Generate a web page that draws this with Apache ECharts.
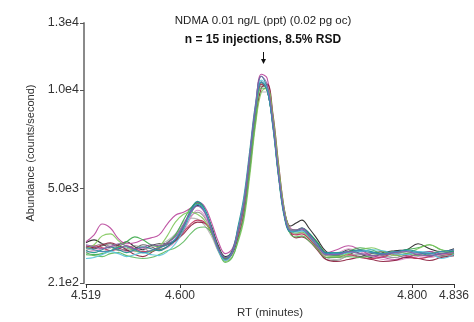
<!DOCTYPE html>
<html>
<head>
    <meta charset="utf-8">
    <title>NDMA chromatogram</title>
    <script src="https://cdn.jsdelivr.net/npm/echarts@6/dist/echarts.min.js"></script>
    <style>
        html, body { margin: 0; padding: 0; background: #fff; }
        #chart { width: 474px; height: 322px; }
    </style>
</head>
<body>
    <div id="chart"></div>
    <script>
        // retention times (minutes), shared by all injections
        const rt = [4.519, 4.526, 4.533, 4.540, 4.547, 4.554, 4.561, 4.568, 4.575, 4.582,
                    4.589, 4.596, 4.603, 4.609, 4.615, 4.621, 4.627, 4.633, 4.639, 4.645,
                    4.650, 4.655, 4.660, 4.665, 4.670, 4.675, 4.680, 4.685, 4.690, 4.695,
                    4.700, 4.705, 4.711, 4.718, 4.726, 4.735, 4.745, 4.755, 4.765, 4.775,
                    4.785, 4.795, 4.805, 4.815, 4.825, 4.836];

        // abundance (counts/second), one array per injection
        const inj01 = [2250, 2400, 2200, 2000, 2150, 2300, 2050, 1900, 2100, 2200, 2200, 2350, 2900, 3700, 4150, 3900, 3100, 2100, 1550, 1850, 2900, 4300, 6600, 9000, 10400, 10000, 8300, 5700, 3800, 3100, 3250, 3400, 3000, 2450, 1800, 1650, 1900, 1700, 1500, 1750, 1850, 1900, 2200, 1950, 1800, 1950];
        const inj02 = [2050, 1950, 2100, 2200, 2000, 1850, 1950, 2150, 2050, 1900, 2050, 2400, 3000, 3800, 4300, 3950, 3000, 1950, 1400, 1750, 2800, 4200, 6500, 8900, 10300, 10000, 8200, 5600, 3600, 2800, 2850, 2950, 2700, 2300, 1700, 1600, 1750, 1550, 1700, 1800, 1650, 1500, 1700, 1800, 1600, 1750];
        const inj03 = [1850, 2050, 2200, 2050, 1850, 1950, 2100, 2000, 1800, 1950, 2250, 2600, 3200, 3600, 3800, 3550, 2800, 1850, 1400, 1750, 2700, 4000, 6200, 8700, 10200, 10100, 8400, 5800, 3700, 2800, 2700, 2800, 2500, 2000, 1400, 1350, 1600, 1650, 1750, 1600, 1500, 1650, 1800, 1650, 1550, 1700];
        const inj04 = [1950, 1850, 1800, 2000, 2100, 1950, 1800, 1850, 2050, 2150, 2350, 2700, 3300, 3500, 3450, 3150, 2600, 1800, 1350, 1700, 2600, 3900, 6100, 8500, 9900, 9900, 8300, 5800, 3700, 2800, 2700, 2750, 2450, 2050, 1500, 1400, 1600, 1700, 1550, 1500, 1650, 1800, 1700, 1550, 1650, 1600];
        const inj05 = [2300, 2650, 3200, 3000, 2450, 2200, 2250, 2400, 2500, 2650, 3200, 3650, 3800, 4000, 4300, 4100, 3300, 2300, 1700, 1950, 3000, 4400, 6700, 9100, 10800, 10600, 8600, 5900, 3800, 3000, 2900, 2950, 2700, 2200, 1750, 1900, 2100, 1900, 1600, 1500, 1400, 1550, 1650, 1800, 1700, 1900];
        const inj06 = [1750, 1850, 1950, 2100, 1950, 1800, 1850, 2000, 1950, 1850, 2000, 2300, 2800, 3500, 3900, 3650, 2800, 1850, 1350, 1700, 2700, 4100, 6400, 8900, 10400, 10200, 8400, 5800, 3700, 2900, 2850, 2900, 2600, 2150, 1600, 1700, 1950, 1800, 1550, 1400, 1350, 1450, 1550, 1500, 1650, 1800];
        const inj07 = [2100, 2000, 2150, 2250, 2100, 1900, 1650, 1550, 1750, 2000, 2150, 2350, 2700, 3100, 3300, 3250, 2850, 2050, 1450, 1700, 2500, 3700, 5900, 8400, 10100, 10300, 8800, 6200, 3900, 2800, 2500, 2550, 2350, 1900, 1400, 1300, 1400, 1500, 1400, 1300, 1350, 1500, 1450, 1350, 1500, 1600];
        const inj08 = [2000, 2100, 2000, 1850, 1950, 2100, 1950, 1800, 1850, 2050, 2200, 2400, 2800, 3200, 3400, 3300, 2750, 1950, 1450, 1750, 2750, 4100, 6400, 8800, 10300, 10200, 8500, 5900, 3700, 2800, 2650, 2700, 2450, 2000, 1500, 1500, 1650, 1500, 1450, 1550, 1700, 1600, 1450, 1550, 1700, 1650];
        const inj09 = [1750, 1650, 1700, 1850, 2050, 2300, 2550, 2400, 2150, 2050, 2250, 2650, 3400, 4000, 4250, 3950, 3000, 2000, 1450, 1750, 2800, 4200, 6500, 8900, 10400, 10000, 8200, 5600, 3600, 2900, 2900, 3000, 2750, 2300, 1700, 1600, 1800, 2000, 1900, 1700, 1750, 1900, 2000, 2150, 1900, 1800];
        const inj10 = [1950, 2150, 2600, 2700, 2350, 2050, 1850, 1750, 1800, 2050, 2600, 3300, 3700, 3800, 3700, 3400, 2750, 1850, 1300, 1550, 2300, 3400, 5600, 8200, 9900, 10100, 8700, 6100, 3900, 2900, 2750, 2800, 2550, 2100, 1600, 1550, 1700, 1900, 2000, 1800, 1600, 1700, 1950, 2150, 1900, 1650];
        const inj11 = [1650, 1600, 1550, 1700, 1750, 1600, 1500, 1450, 1500, 1650, 1850, 2000, 2300, 2700, 3000, 3050, 2750, 1950, 1250, 1500, 2400, 3600, 5900, 8500, 10100, 10000, 8300, 5700, 3600, 2700, 2550, 2600, 2350, 1950, 1500, 1500, 1550, 1500, 1600, 1700, 1800, 1700, 1600, 1700, 1800, 1700];
        const inj12 = [1850, 1750, 1900, 2050, 1900, 1750, 1900, 2050, 1950, 1850, 2050, 2400, 3100, 3900, 4350, 4000, 3050, 2000, 1500, 1850, 3100, 4600, 6900, 9300, 10700, 10100, 8100, 5500, 3500, 2800, 2850, 3000, 2750, 2250, 1750, 1750, 1800, 1900, 1800, 1650, 1750, 1900, 1800, 1600, 1700, 1850];
        const inj13 = [1450, 1500, 1650, 1800, 1700, 1550, 1650, 1750, 1650, 1600, 1800, 2200, 2900, 3700, 4200, 3900, 2950, 1850, 1350, 1750, 2900, 4400, 6700, 9100, 10500, 10100, 8300, 5700, 3700, 2850, 2800, 2850, 2600, 2150, 1650, 1650, 1750, 1800, 1900, 1850, 1700, 1650, 1800, 1750, 1450, 1650];
        const inj14 = [2000, 1900, 1800, 1850, 2000, 2050, 1900, 1750, 1850, 2000, 2150, 2450, 3100, 3800, 4200, 3850, 2900, 1900, 1400, 1750, 2850, 4250, 6600, 9000, 10400, 10000, 8200, 5600, 3600, 2850, 2850, 2900, 2600, 2100, 1700, 1700, 1800, 1850, 1750, 1700, 1800, 1850, 1750, 1700, 1800, 1900];
        const inj15 = [2150, 2050, 1950, 2050, 2200, 2100, 1950, 2000, 2150, 2100, 2250, 2550, 3150, 3800, 4100, 3800, 2950, 1950, 1500, 1800, 2850, 4300, 6700, 9200, 10700, 10300, 8400, 5700, 3700, 2900, 2900, 3000, 2650, 2150, 1650, 1650, 1800, 1700, 1600, 1650, 1750, 1800, 1650, 1600, 1700, 1750];

        const injections = [inj01, inj02, inj03, inj04, inj05, inj06, inj07, inj08,
                            inj09, inj10, inj11, inj12, inj13, inj14, inj15];
        const traceColors = ['#1e1e1e', '#555555', '#8c8c8c', '#b4b4b4', '#b8449a', '#d98cc6',
                             '#8b1c3b', '#c0325a', '#3daa4a', '#80c75a', '#5cb85c', '#17938f',
                             '#56c3dc', '#3b87b8', '#8a5aa8'];

        // axis ticks
        const xTickValues = [4.519, 4.600, 4.800, 4.836];
        const yTickValues = [210, 5000, 10000, 13400];
        const yTickLabels = ['2.1e2', '5.0e3', '1.0e4', '1.3e4'];

        const FONT = "'Liberation Sans', Arial, sans-serif";

        const chart = echarts.init(document.getElementById('chart'), null, { renderer: 'canvas' });

        const series = injections.map((vals, i) => ({
            type: 'line',
            name: 'Injection ' + (i + 1),
            data: rt.map((t, k) => [t, vals[k]]),
            smooth: 0.4,
            showSymbol: false,
            symbol: 'none',
            lineStyle: { width: 1.1, color: traceColors[i], opacity: 0.9 },
            emphasis: { disabled: true },
            animation: false
        }));

        chart.setOption({
            animation: false,
            textStyle: { fontFamily: FONT },
            // keep the plot box fixed, labels may sit near the edges
            grid: { left: 86, right: 20, top: 23, bottom: 39, containLabel: false, outerBoundsMode: 'none' },
            xAxis: {
                type: 'value',
                min: 4.519,
                max: 4.836,
                offset: 1,
                name: 'RT (minutes)',
                nameLocation: 'middle',
                nameGap: 22,
                nameTextStyle: { fontFamily: FONT, fontSize: 11.5, color: '#333' },
                axisLine: { lineStyle: { color: '#333', width: 1 } },
                axisTick: { show: true, length: 4, customValues: xTickValues, lineStyle: { color: '#333' } },
                axisLabel: {
                    customValues: xTickValues,
                    formatter: v => v.toFixed(3),
                    fontFamily: FONT, fontSize: 12, color: '#333', margin: 6
                },
                splitLine: { show: false }
            },
            yAxis: {
                type: 'value',
                min: 210,
                max: 13400,
                offset: 2,
                name: 'Abundance (counts/second)',
                nameLocation: 'middle',
                nameGap: 24,
                nameTextStyle: { fontFamily: FONT, fontSize: 11, color: '#333' },
                axisLine: { show: true, lineStyle: { color: '#8a8a8a', width: 2 } },
                axisTick: { show: true, length: 4, customValues: yTickValues, lineStyle: { color: '#555' } },
                axisLabel: {
                    customValues: yTickValues,
                    formatter: v => yTickLabels[yTickValues.indexOf(v)],
                    fontFamily: FONT, fontSize: 12.5, color: '#333', margin: 5
                },
                splitLine: { show: false }
            },
            graphic: [
                {
                    type: 'text', x: 263, y: 21,
                    style: {
                        text: 'NDMA 0.01 ng/L (ppt) (0.02 pg oc)',
                        font: "11.5px " + FONT, fill: '#222',
                        textAlign: 'center', textVerticalAlign: 'middle'
                    }
                },
                {
                    type: 'text', x: 263, y: 40,
                    style: {
                        text: 'n = 15 injections, 8.5% RSD',
                        font: "bold 12px " + FONT, fill: '#111',
                        textAlign: 'center', textVerticalAlign: 'middle'
                    }
                },
                {
                    type: 'line',
                    shape: { x1: 263.5, y1: 52, x2: 263.5, y2: 60 },
                    style: { stroke: '#111', lineWidth: 1 }
                },
                {
                    type: 'polygon',
                    shape: { points: [[261, 59], [266, 59], [263.5, 64]] },
                    style: { fill: '#111' }
                }
            ],
            series: series
        });
    </script>
</body>
</html>
